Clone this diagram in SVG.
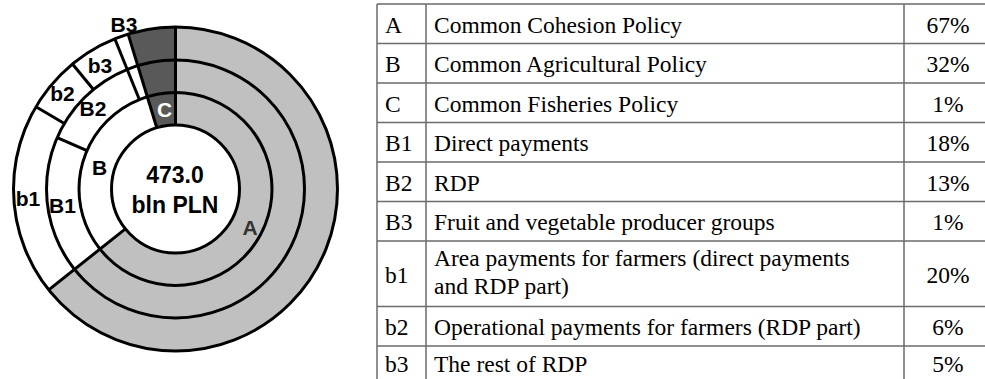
<svg xmlns="http://www.w3.org/2000/svg" width="985" height="379" viewBox="0 0 985 379">
<style>
.ring{fill:none;stroke:#000;stroke-width:3}
.sep{stroke:#000;stroke-width:3;stroke-linecap:butt}
.lbl{font-family:"Liberation Sans",Arial,sans-serif;font-weight:bold;font-size:21px;text-anchor:middle;fill:#000}
.ctr{font-family:"Liberation Sans",Arial,sans-serif;font-weight:bold;font-size:23px;text-anchor:middle;fill:#000}
.grid{stroke:#6b6b6b;stroke-width:1.5;fill:none}
.t{font-family:"Liberation Serif","Times New Roman",serif;font-size:23.5px;fill:#000}
.p{font-family:"Liberation Serif","Times New Roman",serif;font-size:23.5px;fill:#000;text-anchor:middle}
</style>
<rect width="985" height="379" fill="#fff"/>
<g id="donut">
  <circle cx="175.5" cy="189" r="162" fill="#fff"/>
  <path id="segA" d="M175.5 189 L175.5 27 A162 162 0 1 1 48.72 289.85 Z" fill="#c0c0c0"/>
  <path id="segC" d="M175.5 189 L128.13 34.08 A162 162 0 0 1 175.5 27 Z" fill="#595959"/>
  <circle cx="175.5" cy="189" r="64" fill="#fff"/>
  <circle class="ring" cx="175.5" cy="189" r="64"/>
  <circle class="ring" cx="175.5" cy="189" r="96.5"/>
  <circle class="ring" cx="175.5" cy="189" r="129"/>
  <circle class="ring" cx="175.5" cy="189" r="162"/>
</g>
<g id="connectors">
  <line class="sep" x1="175.5" y1="125" x2="175.5" y2="27"/>
  <line class="sep" x1="125.41" y1="228.84" x2="48.72" y2="289.85"/>
  <line class="sep" x1="156.79" y1="127.8" x2="128.13" y2="34.08"/>
  <line class="sep" x1="87.0" y1="150.53" x2="57.19" y2="137.57"/>
  <line class="sep" x1="139.35" y1="99.53" x2="114.81" y2="38.79"/>
  <line class="sep" x1="64.35" y1="123.53" x2="35.92" y2="106.78"/>
  <line class="sep" x1="93.44" y1="89.46" x2="72.45" y2="64.0"/>
</g>
<g id="donut-labels">
  <text class="ctr" x="175" y="183">473.0</text>
  <text class="ctr" x="175" y="213">bln PLN</text>
  <text class="lbl" x="250" y="235" fill="#333" style="fill:#333">A</text>
  <text class="lbl" x="164.5" y="117" style="fill:#fff">C</text>
  <text class="lbl" x="99.5" y="175">B</text>
  <text class="lbl" x="62.5" y="213">B1</text>
  <text class="lbl" x="28" y="206">b1</text>
  <text class="lbl" x="93" y="116">B2</text>
  <text class="lbl" x="62.5" y="101">b2</text>
  <text class="lbl" x="100" y="73">b3</text>
  <text class="lbl" x="124" y="31.5">B3</text>
</g>
<g id="table">
  <path class="grid" d="M377 4H990 M377 43.5H990 M377 83H990 M377 122.5H990 M377 162H990 M377 201.5H990 M377 241H990 M377 306.5H990 M377 346H990 M377 385.5H990 M377 4V386 M426 4V386 M904 4V386"/>
  <g id="row-A"><text class="t" x="385" y="32.5">A</text><text class="t" x="434" y="32.5">Common Cohesion Policy</text><text class="p" x="948" y="32.5">67%</text></g>
  <g id="row-B"><text class="t" x="385" y="72">B</text><text class="t" x="434" y="72">Common Agricultural Policy</text><text class="p" x="948" y="72">32%</text></g>
  <g id="row-C"><text class="t" x="385" y="111.5">C</text><text class="t" x="434" y="111.5">Common Fisheries Policy</text><text class="p" x="948" y="111.5">1%</text></g>
  <g id="row-B1"><text class="t" x="385" y="151">B1</text><text class="t" x="434" y="151">Direct payments</text><text class="p" x="948" y="151">18%</text></g>
  <g id="row-B2"><text class="t" x="385" y="190.5">B2</text><text class="t" x="434" y="190.5">RDP</text><text class="p" x="948" y="190.5">13%</text></g>
  <g id="row-B3"><text class="t" x="385" y="230">B3</text><text class="t" x="434" y="230">Fruit and vegetable producer groups</text><text class="p" x="948" y="230">1%</text></g>
  <g id="row-b1"><text class="t" x="385" y="282.5">b1</text><text class="t" x="434" y="266">Area payments for farmers (direct payments</text><text class="t" x="434" y="294">and RDP part)</text><text class="p" x="948" y="282.5">20%</text></g>
  <g id="row-b2"><text class="t" x="385" y="334.5">b2</text><text class="t" x="434" y="334.5">Operational payments for farmers (RDP part)</text><text class="p" x="948" y="334.5">6%</text></g>
  <g id="row-b3"><text class="t" x="385" y="372">b3</text><text class="t" x="434" y="372">The rest of RDP</text><text class="p" x="948" y="372">5%</text></g>
</g>
</svg>
